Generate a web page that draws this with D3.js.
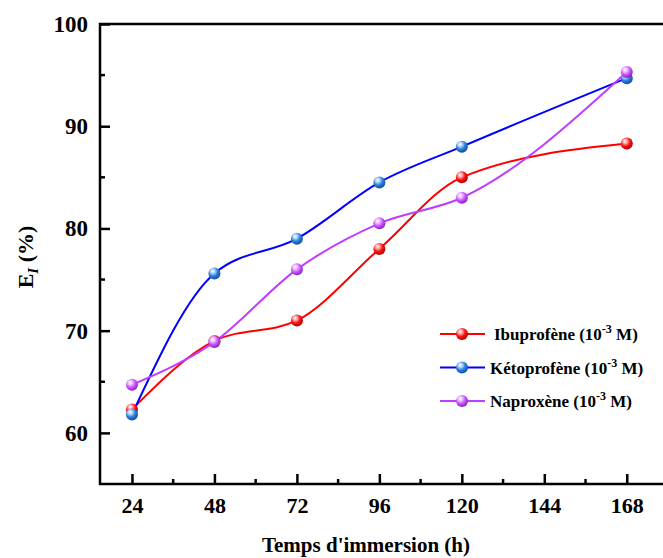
<!DOCTYPE html>
<html>
<head>
<meta charset="utf-8">
<script src="https://d3js.org/d3.v7.min.js"></script>
<style>
  body { margin: 0; background: #fff; }
  text { font-family: "Liberation Serif", "Times New Roman", serif; font-weight: bold; }
</style>
</head>
<body>
<div id="chart"></div>
<script>
// hours of immersion
var hours = [24, 48, 72, 96, 120, 168];
var xTicks = [24, 48, 72, 96, 120, 144, 168];
var yTicks = [60, 70, 80, 90, 100];

// inhibition efficiency (%)
var ibuprofene = [62.3, 69.0, 71.0, 78.0, 85.0, 88.3];
var ketoprofene = [61.8, 75.6, 79.0, 84.5, 88.0, 94.7];
var naproxene = [64.7, 68.9, 76.0, 80.5, 83.0, 95.3];

var seriesNames = ["Ibuprofène", "Kétoprofène", "Naproxène"];

var series = [
  { name: seriesNames[0], values: ibuprofene, line: "#ff0000", ball: "#ff1010", light: "#ffb0b0", dark: "#b00000" },
  { name: seriesNames[1], values: ketoprofene, line: "#0000ff", ball: "#2a7fdc", light: "#b8d8ff", dark: "#1050a0" },
  { name: seriesNames[2], values: naproxene, line: "#c03cff", ball: "#cc55ff", light: "#f0c8ff", dark: "#8a20c0" }
];

var W = 663, H = 558;
var margin = { top: 24, left: 100, bottom: 74 };
var plotRight = 668;

var svg = d3.select("#chart").append("svg")
  .attr("width", W)
  .attr("height", H);

var x = d3.scaleLinear().domain([14.7, 180]).range([margin.left, plotRight]);
var y = d3.scaleLinear().domain([55, 100]).range([H - margin.bottom, margin.top]);

// gradients for the ball markers
var defs = svg.append("defs");
series.forEach(function(s, i) {
  var g = defs.append("radialGradient")
    .attr("id", "ball" + i)
    .attr("cx", "40%").attr("cy", "35%").attr("r", "65%")
    .attr("fx", "35%").attr("fy", "30%");
  g.append("stop").attr("offset", "0%").attr("stop-color", "#ffffff");
  g.append("stop").attr("offset", "25%").attr("stop-color", s.light);
  g.append("stop").attr("offset", "60%").attr("stop-color", s.ball);
  g.append("stop").attr("offset", "100%").attr("stop-color", s.dark);
});

// axes, ticks pointing inward
var xAxis = d3.axisBottom(x).tickValues(xTicks).tickSize(-10).tickPadding(13).tickFormat(d3.format("d"));
var yAxis = d3.axisLeft(y).tickValues(yTicks).tickSize(-10).tickPadding(12).tickFormat(d3.format("d"));

var gx = svg.append("g")
  .attr("transform", "translate(0," + y(55) + ")")
  .call(xAxis);
var gy = svg.append("g")
  .attr("transform", "translate(" + margin.left + ",0)")
  .call(yAxis);

[gx, gy].forEach(function(g) {
  g.select(".domain").remove();
  g.selectAll(".tick line").attr("stroke", "#000").attr("stroke-width", 2.5);
  g.selectAll(".tick text").attr("fill", "#000");
});
gx.selectAll(".tick text").attr("font-size", 22);
gy.selectAll(".tick text").attr("font-size", 23);

// minor ticks
var xMinor = d3.range(36, 180, 24);
svg.selectAll(".xminor").data(xMinor).enter().append("line")
  .attr("x1", function(d) { return x(d); })
  .attr("x2", function(d) { return x(d); })
  .attr("y1", y(55)).attr("y2", y(55) - 5)
  .attr("stroke", "#000").attr("stroke-width", 2.5);
var yMinor = [65, 75, 85, 95];
svg.selectAll(".yminor").data(yMinor).enter().append("line")
  .attr("x1", margin.left).attr("x2", margin.left + 5)
  .attr("y1", function(d) { return y(d); })
  .attr("y2", function(d) { return y(d); })
  .attr("stroke", "#000").attr("stroke-width", 2.5);

// frame
svg.append("rect")
  .attr("x", x(14.7)).attr("y", y(100))
  .attr("width", x(180) - x(14.7))
  .attr("height", y(55) - y(100))
  .attr("fill", "none").attr("stroke", "#000").attr("stroke-width", 2.5);

// curves
var line = d3.line()
  .x(function(d, i) { return x(hours[i]); })
  .y(function(d) { return y(d); })
  .curve(d3.curveMonotoneX);

series.forEach(function(s, i) {
  svg.append("path")
    .attr("d", line(s.values))
    .attr("fill", "none")
    .attr("stroke", s.line)
    .attr("stroke-width", 2);
});

series.forEach(function(s, i) {
  svg.selectAll(".pt" + i).data(s.values).enter().append("circle")
    .attr("cx", function(d, j) { return x(hours[j]); })
    .attr("cy", function(d) { return y(d); })
    .attr("r", 6)
    .attr("fill", "url(#ball" + i + ")");
});

// legend
var legend = svg.append("g");
series.forEach(function(s, i) {
  var ly = 334 + i * 33.5;
  legend.append("line")
    .attr("x1", 440).attr("x2", 485)
    .attr("y1", ly).attr("y2", ly)
    .attr("stroke", s.line).attr("stroke-width", 2);
  legend.append("circle")
    .attr("cx", 462).attr("cy", ly).attr("r", 6)
    .attr("fill", "url(#ball" + i + ")");
  var t = legend.append("text")
    .attr("x", i == 0 ? 494 : 490).attr("y", ly + 6)
    .attr("font-size", 17).attr("fill", "#000");
  t.append("tspan").text(s.name + " (10");
  t.append("tspan").attr("dy", -7).attr("font-size", 12).text("-3");
  t.append("tspan").attr("dy", 7).text(" M)");
});

// axis titles
svg.append("text")
  .attr("x", 366).attr("y", 552)
  .attr("text-anchor", "middle")
  .attr("font-size", 21).attr("fill", "#000")
  .text("Temps d'immersion (h)");

var yt = svg.append("text")
  .attr("transform", "translate(33,257) rotate(-90)")
  .attr("text-anchor", "middle")
  .attr("font-size", 22).attr("fill", "#000");
yt.append("tspan").text("E");
yt.append("tspan").attr("dy", 5).attr("font-size", 15).attr("font-style", "italic").text("I");
yt.append("tspan").attr("dy", -5).text(" (%)");
</script>
</body>
</html>
